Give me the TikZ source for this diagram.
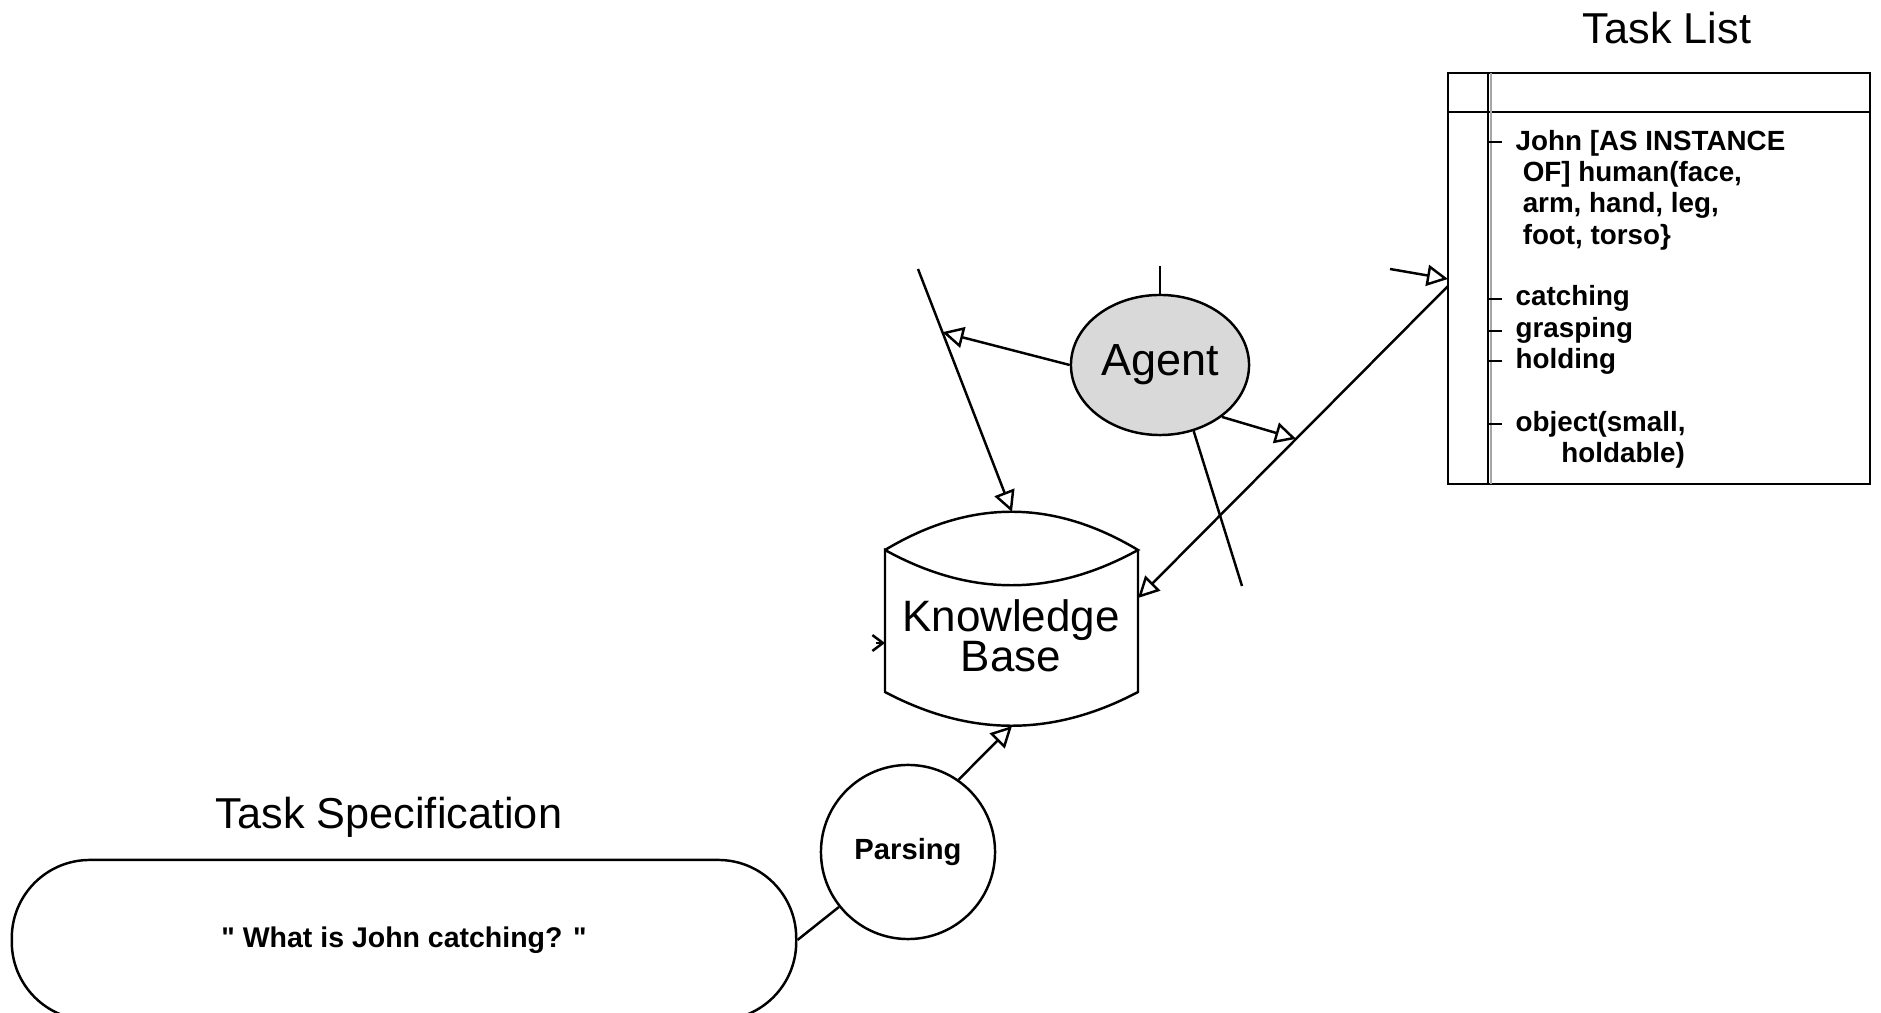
\documentclass[tikz,border=0pt]{standalone}
\usepackage{fontspec}
\setmainfont{Liberation Sans}
\usetikzlibrary{arrows.meta,calc,shapes.geometric}

\begin{document}
\begin{tikzpicture}[x=0.01cm,y=-0.01cm,
	every node/.style={inner sep=0pt},
	link/.style={line width=0.7pt},
	flow/.style={link,-{Triangle[open,length=6pt,width=6pt]}},
	heading/.style={font=\fontsize{12.3}{14}\selectfont},
	agentnode/.style={ellipse,draw,link,fill=black!15,minimum width=1.78cm,minimum height=1.4cm,font=\fontsize{12.8}{15}\selectfont},
	parsenode/.style={circle,draw,link,minimum size=1.74cm,font=\bfseries\fontsize{8.3}{10}\selectfont},
	specnode/.style={draw,link,rounded corners=0.78cm,minimum width=7.84cm,minimum height=1.6cm,font=\bfseries\fontsize{8.1}{10}\selectfont},
	kbtext/.style={align=center,font=\fontsize{12.5}{11.4}\selectfont},
	itemtext/.style={anchor=west,align=left,font=\bfseries\fontsize{7.9}{8.9}\selectfont}]
\useasboundingbox (0,0) rectangle (1881,1013);

% task specification and parsing
\node[heading] (spectitle) at (389,817) {Task Specification};
\node[specnode] (spec) at (404,940) {\textquotedbl{} What is John catching? \textquotedbl};
\node[parsenode] (parse) at (908,852) {Parsing};

% knowledge base
\draw[link] (885,550) .. controls (970,499) and (1053,499) .. (1138,550)
	.. controls (1053,597) and (970,597) .. (885,550) -- (885,692)
	.. controls (970,737) and (1053,737) .. (1138,692) -- (1138,550);
\node[kbtext] (kb) at (1011,636) {Knowledge\\Base};
\coordinate (kbtop) at (1012,512);
\coordinate (kbbot) at (1012,726);
\coordinate (kbright) at (1138,598);
\coordinate (kbleft) at (885,643);
\coordinate (kbstub) at (876,643);

% agent
\node[agentnode] (agent) at (1160,365) {Agent};
\coordinate (agentup) at (1160,266);
\coordinate (agentdown) at (1242,586);
\coordinate (feedin) at (918,269);

% task list
\node[heading] (tltitle) at (1667,28) {Task List};
\node[draw,link,minimum width=4.22cm,minimum height=4.11cm] (tasklist) at (1659,278.5) {};
\draw[link] (1448,112) -- (1870,112);
\draw[link] (1488,73) -- (1488,484);
\draw[black!35,line width=0.8pt] (1491,73) -- (1491,484);
\foreach \y in {142,299,331,361,424}
	\draw[link] (1488,\y) -- (1502,\y);
\node[itemtext] (who) at (1515,190) {John [AS INSTANCE\\\hspace*{2pt}OF] human(face,\\\hspace*{2pt}arm, hand, leg,\\\hspace*{2pt}foot, torso\}};
\node[itemtext] (acts) at (1515,330) {catching\\grasping\\holding};
\node[itemtext] (obj) at (1515,440) {object(small,\\\hspace*{13pt}holdable)};
\coordinate (tlport) at (1448,286);
\coordinate (tlport2) at (1448,279);
\coordinate (tlstub) at (1390,269);

% connectors
\draw[link] (spec.east) -- (parse);
\draw[flow] (parse.55) -- (kbbot);
\draw[flow] (feedin) -- (kbtop);
\draw[flow] (agent.west) -- ($(feedin)!0.26!(kbtop)$);
\draw[flow,{Triangle[open,length=6pt,width=6pt]}-] (kbright) -- (tlport);
\draw[flow] (agent.-40) -- ($(kbright)!0.51!(tlport)$);
\draw[link] (agent.north) -- (agentup);
\draw[link] (agent.-63) -- (agentdown);
\draw[flow] (tlstub) -- (tlport2);
\draw[link,-{Straight Barb[length=3pt,width=4.5pt]}] (kbstub) -- (kbleft);
\end{tikzpicture}
\end{document}
